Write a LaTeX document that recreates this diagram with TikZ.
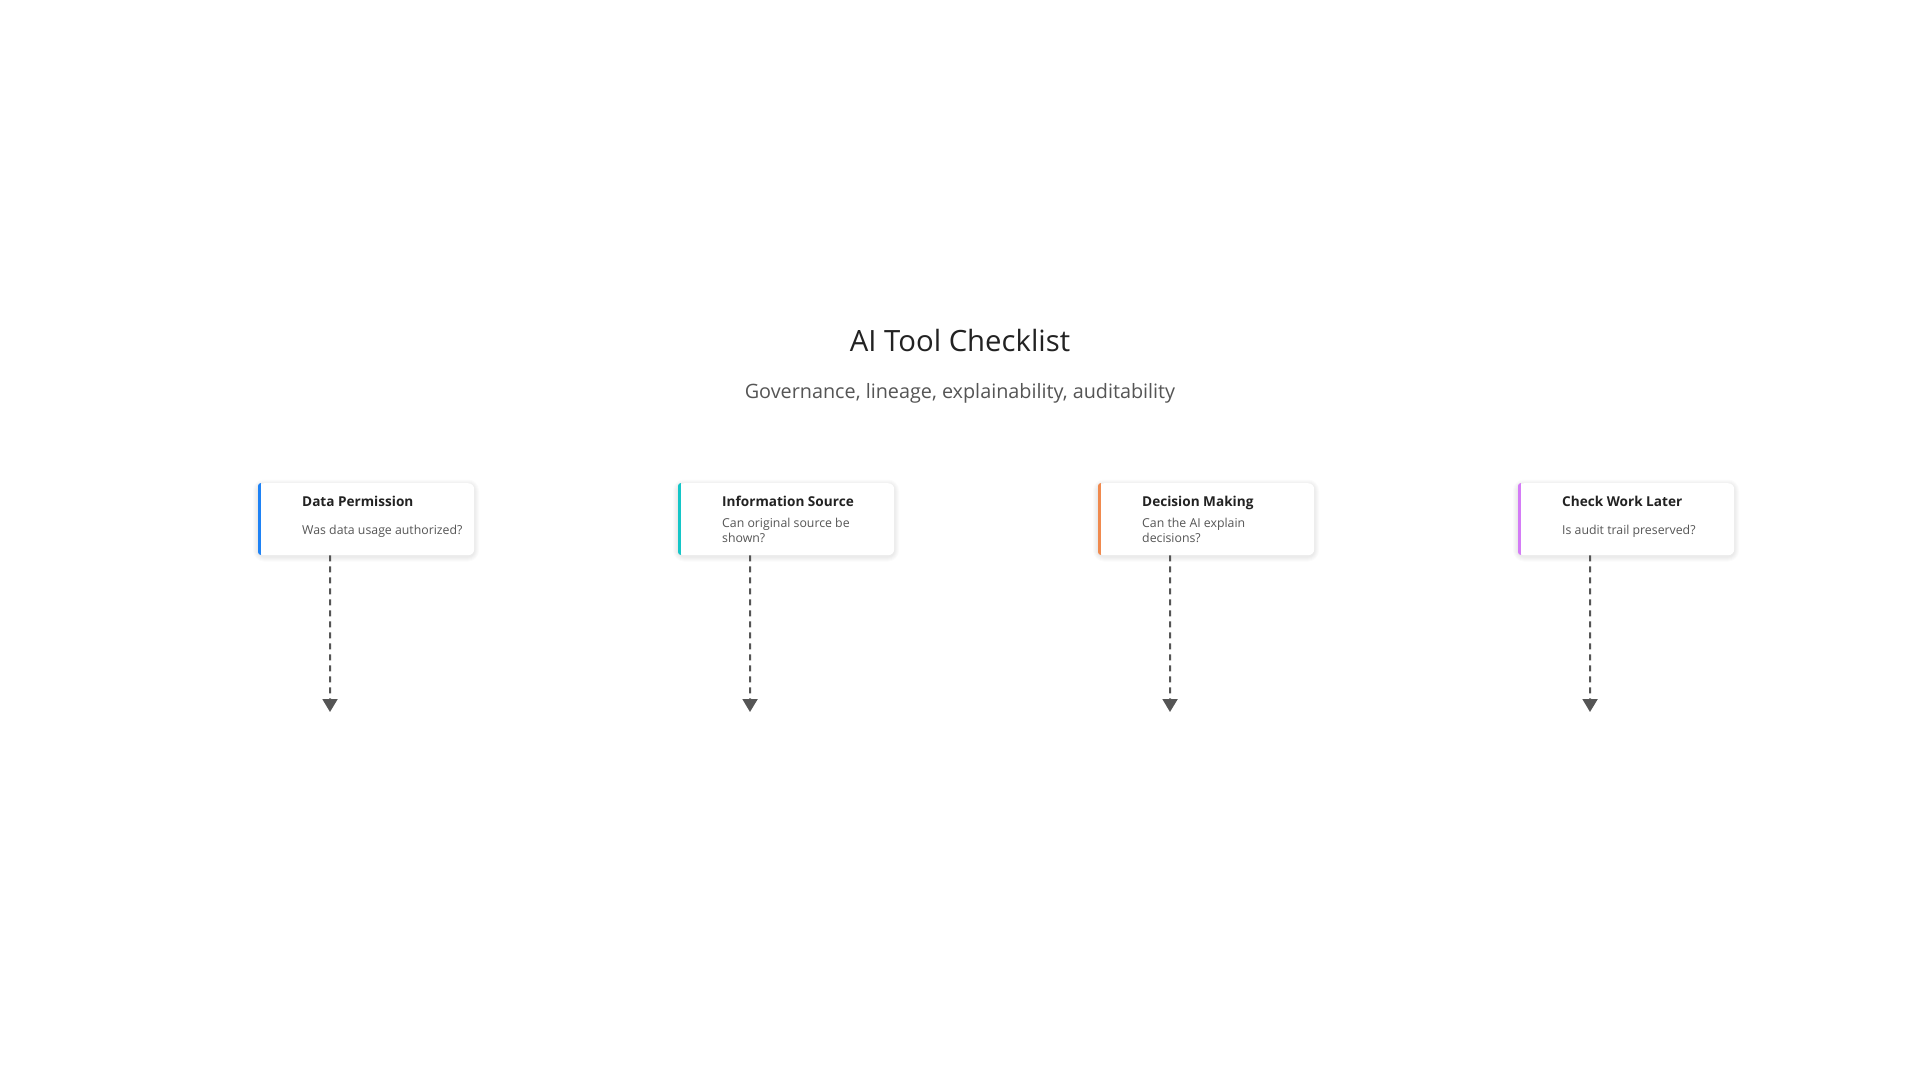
\documentclass[tikz,border=0pt]{standalone}
\usepackage{fontspec}
\setmainfont{Open Sans}
\usetikzlibrary{arrows.meta}
\definecolor{ink}{HTML}{222222}
\definecolor{sub}{HTML}{555555}
\definecolor{flowc}{HTML}{555555}
\definecolor{cblue}{HTML}{1E82F5}
\definecolor{ccyan}{HTML}{14C6C8}
\definecolor{corange}{HTML}{F08A4E}
\definecolor{cpurple}{HTML}{D47CF6}
\tikzset{
  card/.style={anchor=north west, minimum width=216pt, minimum height=72pt, inner sep=0pt,
    fill=white, rounded corners=6pt},
  cardtitle/.style={anchor=base west, inner sep=0pt, text=ink, font=\fontsize{13.6}{17}\selectfont\bfseries},
  carddesc/.style={anchor=base west, inner sep=0pt, text=sub, font=\fontsize{12.3}{15}\selectfont},
  flow/.style={draw=flowc, line width=2pt, dash pattern=on 6pt off 5pt, -{Triangle[width=15pt,length=13pt]}},
}
\begin{document}
\begin{tikzpicture}[x=1pt,y=-1pt]
\useasboundingbox[fill=white] (0,0) rectangle (1920,1080);
\node[anchor=base, inner sep=0pt, text=ink, font=\fontsize{29.3}{35}\selectfont] (title) at (960,351) {AI Tool Checklist};
\node[anchor=base, inner sep=0pt, text=sub, font=\fontsize{19.8}{23}\selectfont] (subtitle) at (960,398) {Governance, lineage, explainability, auditability};

\foreach \i/\col in {0/cblue,1/ccyan,2/corange,3/cpurple}{
  \pgfmathsetmacro{\xl}{258+420*\i}
  \foreach \s in {5,4,3,2,1}{
    \fill[black, opacity=0.016, rounded corners={6pt+\s pt}] (\xl-\s,483-\s+1.5) rectangle (\xl+216+\s,555+\s+1.5);
  }
  \node[card] (c\i) at (\xl,483) {};
  \begin{scope}
    \clip[rounded corners=3pt] (\xl,483) rectangle ++(8,72);
    \fill[\col] (\xl,483) rectangle ++(3.3,72);
  \end{scope}
  \coordinate (e\i) at (\xl+72,712);
  \draw[flow] ([xshift=-36pt]c\i.south) -- (e\i);
}

\node[cardtitle] (t0) at (302,506) {Data Permission};
\node[carddesc] (d0) at (302,534) {Was data usage authorized?};

\node[cardtitle] (t1) at (722,506) {Information Source};
\node[carddesc] (d1a) at (722,527) {Can original source be};
\node[carddesc] (d1b) at (722,542) {shown?};

\node[cardtitle] (t2) at (1142,506) {Decision Making};
\node[carddesc] (d2a) at (1142,527) {Can the AI explain};
\node[carddesc] (d2b) at (1142,542) {decisions?};

\node[cardtitle] (t3) at (1562,506) {Check Work Later};
\node[carddesc] (d3) at (1562,534) {Is audit trail preserved?};
\end{tikzpicture}
\end{document}
